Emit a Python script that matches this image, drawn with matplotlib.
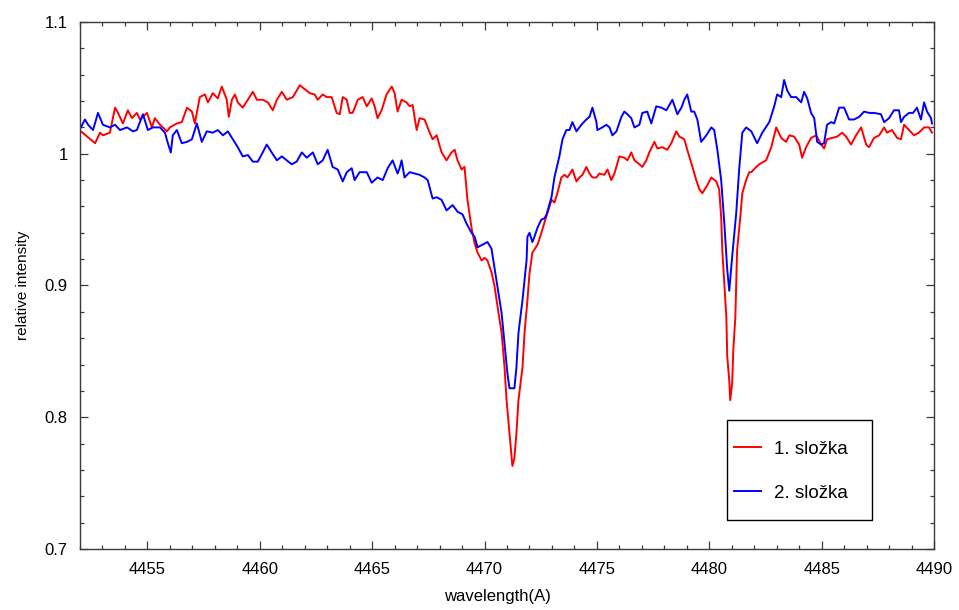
import matplotlib
matplotlib.use("Agg")
import matplotlib.pyplot as plt
from matplotlib.ticker import MultipleLocator, FuncFormatter
from matplotlib.patches import Rectangle

plt.rcParams['font.family'] = ['Liberation Sans', 'DejaVu Sans']

# ---- data ----
wl_red = [4452.04, 4452.67, 4452.89, 4453.02, 4453.33, 4453.56, 4453.69, 4453.91, 4454.13, 4454.31,
          4454.53, 4454.67, 4454.98, 4455.20, 4455.33, 4455.56, 4455.69, 4455.87, 4456.00, 4456.31,
          4456.53, 4456.76, 4456.98, 4457.11, 4457.20, 4457.33, 4457.56, 4457.69, 4457.91, 4458.13,
          4458.31, 4458.53, 4458.62, 4458.76, 4458.89, 4459.02, 4459.24, 4459.47, 4459.69, 4459.87,
          4460.13, 4460.36, 4460.58, 4460.76, 4460.98, 4461.20, 4461.47, 4461.78, 4462.00, 4462.22,
          4462.44, 4462.58, 4462.80, 4462.98, 4463.20, 4463.42, 4463.56, 4463.69, 4463.87, 4464.00,
          4464.13, 4464.36, 4464.58, 4464.76, 4464.98, 4465.11, 4465.24, 4465.42, 4465.64, 4465.87,
          4466.00, 4466.13, 4466.31, 4466.53, 4466.67, 4466.80, 4466.98, 4467.11, 4467.33, 4467.56,
          4467.69, 4467.87, 4468.09, 4468.31, 4468.53, 4468.67, 4468.80, 4468.98, 4469.11, 4469.24,
          4469.42, 4469.56, 4469.69, 4469.87, 4470.00, 4470.13, 4470.31, 4470.44, 4470.58, 4470.76,
          4470.89, 4470.98, 4471.11, 4471.24, 4471.33, 4471.42, 4471.51, 4471.69, 4471.78, 4471.91,
          4472.00, 4472.13, 4472.36, 4472.53, 4472.67, 4472.80, 4472.98, 4473.11, 4473.24, 4473.42,
          4473.56, 4473.69, 4473.91, 4474.09, 4474.22, 4474.36, 4474.53, 4474.67, 4474.80, 4474.98,
          4475.11, 4475.33, 4475.47, 4475.64, 4475.78, 4476.00, 4476.22, 4476.36, 4476.53, 4476.67,
          4476.89, 4477.02, 4477.20, 4477.33, 4477.56, 4477.69, 4477.91, 4478.13, 4478.31, 4478.53,
          4478.67, 4478.89, 4479.02, 4479.20, 4479.42, 4479.56, 4479.69, 4479.91, 4480.09, 4480.31,
          4480.44, 4480.53, 4480.58, 4480.67, 4480.76, 4480.80, 4480.89, 4480.93, 4481.02, 4481.07,
          4481.16, 4481.20, 4481.24, 4481.38, 4481.47, 4481.64, 4481.78, 4481.87, 4482.09, 4482.22,
          4482.53, 4482.76, 4482.98, 4483.20, 4483.42, 4483.56, 4483.78, 4484.00, 4484.13, 4484.31,
          4484.53, 4484.76, 4484.98, 4485.11, 4485.24, 4485.47, 4485.69, 4485.91, 4486.09, 4486.31,
          4486.53, 4486.76, 4486.98, 4487.11, 4487.33, 4487.56, 4487.78, 4487.91, 4488.13, 4488.36,
          4488.53, 4488.67, 4488.89, 4489.11, 4489.33, 4489.56, 4489.78, 4489.91]
int_red = [1.017, 1.008, 1.016, 1.014, 1.016, 1.035, 1.031, 1.023, 1.033, 1.027,
           1.031, 1.026, 1.031, 1.020, 1.027, 1.022, 1.020, 1.017, 1.020, 1.023,
           1.024, 1.035, 1.032, 1.023, 1.031, 1.043, 1.045, 1.039, 1.046, 1.042,
           1.051, 1.041, 1.028, 1.041, 1.045, 1.039, 1.035, 1.041, 1.047, 1.041,
           1.041, 1.039, 1.033, 1.041, 1.047, 1.041, 1.043, 1.052, 1.049, 1.046,
           1.045, 1.041, 1.045, 1.043, 1.043, 1.031, 1.030, 1.043, 1.041, 1.031,
           1.031, 1.041, 1.043, 1.036, 1.042, 1.036, 1.027, 1.033, 1.045, 1.051,
           1.046, 1.032, 1.041, 1.039, 1.036, 1.037, 1.018, 1.027, 1.026, 1.016,
           1.011, 1.014, 1.001, 0.995, 1.001, 1.003, 0.995, 0.988, 0.990, 0.965,
           0.944, 0.932, 0.925, 0.919, 0.921, 0.919, 0.910, 0.900, 0.884, 0.864,
           0.838, 0.813, 0.788, 0.763, 0.769, 0.788, 0.813, 0.838, 0.864, 0.889,
           0.909, 0.925, 0.931, 0.940, 0.948, 0.955, 0.965, 0.963, 0.970, 0.982,
           0.984, 0.982, 0.988, 0.979, 0.982, 0.984, 0.990, 0.985, 0.982, 0.982,
           0.985, 0.984, 0.988, 0.980, 0.985, 0.998, 0.997, 0.995, 1.001, 0.995,
           0.992, 0.990, 0.995, 1.001, 1.009, 1.004, 1.005, 1.003, 1.008, 1.017,
           1.013, 1.011, 1.003, 0.993, 0.980, 0.973, 0.970, 0.976, 0.982, 0.979,
           0.973, 0.952, 0.927, 0.902, 0.876, 0.846, 0.828, 0.813, 0.826, 0.851,
           0.876, 0.902, 0.927, 0.952, 0.970, 0.980, 0.986, 0.986, 0.990, 0.992,
           0.995, 1.005, 1.020, 1.012, 1.009, 1.014, 1.013, 1.007, 0.997, 1.005,
           1.012, 1.014, 1.007, 1.004, 1.011, 1.012, 1.013, 1.016, 1.013, 1.007,
           1.014, 1.020, 1.007, 1.005, 1.012, 1.014, 1.020, 1.016, 1.018, 1.012,
           1.011, 1.022, 1.018, 1.014, 1.016, 1.020, 1.020, 1.016]

wl_blue = [4452.04, 4452.22, 4452.36, 4452.58, 4452.80, 4453.02, 4453.33, 4453.56, 4453.78, 4454.09,
           4454.36, 4454.53, 4454.80, 4455.02, 4455.24, 4455.56, 4455.78, 4455.91, 4456.04, 4456.13,
           4456.31, 4456.53, 4456.76, 4456.98, 4457.20, 4457.42, 4457.64, 4457.91, 4458.13, 4458.36,
           4458.58, 4458.80, 4459.02, 4459.24, 4459.47, 4459.69, 4459.91, 4460.13, 4460.31, 4460.53,
           4460.76, 4460.98, 4461.20, 4461.42, 4461.64, 4461.87, 4462.09, 4462.36, 4462.58, 4462.80,
           4463.02, 4463.24, 4463.47, 4463.69, 4463.87, 4464.09, 4464.22, 4464.44, 4464.76, 4464.98,
           4465.24, 4465.47, 4465.69, 4465.91, 4466.13, 4466.22, 4466.31, 4466.44, 4466.67, 4466.89,
           4467.11, 4467.33, 4467.47, 4467.69, 4467.87, 4468.09, 4468.31, 4468.58, 4468.80, 4469.02,
           4469.20, 4469.42, 4469.56, 4469.69, 4469.91, 4470.13, 4470.31, 4470.44, 4470.58, 4470.76,
           4470.89, 4471.02, 4471.11, 4471.33, 4471.42, 4471.51, 4471.69, 4471.87, 4471.91, 4472.00,
           4472.13, 4472.22, 4472.36, 4472.44, 4472.53, 4472.67, 4472.76, 4472.98, 4473.11, 4473.33,
           4473.47, 4473.64, 4473.78, 4473.91, 4474.09, 4474.22, 4474.36, 4474.53, 4474.67, 4474.80,
           4474.98, 4475.02, 4475.24, 4475.42, 4475.56, 4475.69, 4475.87, 4476.09, 4476.22, 4476.36,
           4476.53, 4476.67, 4476.89, 4477.02, 4477.24, 4477.42, 4477.64, 4477.87, 4478.09, 4478.36,
           4478.58, 4478.76, 4478.89, 4479.02, 4479.20, 4479.33, 4479.47, 4479.64, 4479.87, 4480.09,
           4480.22, 4480.36, 4480.53, 4480.67, 4480.80, 4480.89, 4481.02, 4481.20, 4481.33, 4481.47,
           4481.64, 4481.87, 4482.13, 4482.36, 4482.67, 4482.89, 4483.02, 4483.20, 4483.33, 4483.47,
           4483.64, 4483.87, 4484.09, 4484.22, 4484.36, 4484.53, 4484.67, 4484.80, 4484.98, 4485.11,
           4485.24, 4485.42, 4485.56, 4485.78, 4486.00, 4486.22, 4486.44, 4486.67, 4486.89, 4487.11,
           4487.33, 4487.64, 4487.78, 4488.00, 4488.22, 4488.44, 4488.53, 4488.67, 4488.89, 4489.07,
           4489.24, 4489.42, 4489.56, 4489.69, 4489.87, 4489.91]
int_blue = [1.020, 1.026, 1.022, 1.018, 1.031, 1.022, 1.020, 1.022, 1.018, 1.020,
            1.017, 1.018, 1.030, 1.018, 1.020, 1.020, 1.016, 1.008, 1.001, 1.014,
            1.018, 1.008, 1.009, 1.011, 1.023, 1.009, 1.017, 1.016, 1.018, 1.014,
            1.017, 1.011, 1.005, 0.998, 0.999, 0.994, 0.994, 1.001, 1.007, 1.001,
            0.995, 0.998, 0.995, 0.992, 0.994, 1.001, 0.997, 1.001, 0.992, 0.995,
            1.003, 0.990, 0.988, 0.979, 0.986, 0.989, 0.980, 0.986, 0.986, 0.978,
            0.982, 0.980, 0.989, 0.995, 0.985, 0.989, 0.995, 0.982, 0.986, 0.985,
            0.984, 0.982, 0.980, 0.966, 0.967, 0.965, 0.957, 0.961, 0.956, 0.954,
            0.947, 0.940, 0.937, 0.929, 0.931, 0.933, 0.928, 0.914, 0.899, 0.879,
            0.856, 0.833, 0.822, 0.822, 0.838, 0.864, 0.889, 0.919, 0.937, 0.940,
            0.933, 0.937, 0.944, 0.947, 0.950, 0.951, 0.954, 0.967, 0.982, 0.998,
            1.011, 1.018, 1.018, 1.024, 1.017, 1.020, 1.023, 1.026, 1.028, 1.035,
            1.024, 1.018, 1.020, 1.022, 1.020, 1.014, 1.017, 1.028, 1.032, 1.030,
            1.027, 1.020, 1.022, 1.031, 1.032, 1.023, 1.036, 1.035, 1.033, 1.041,
            1.030, 1.035, 1.041, 1.045, 1.032, 1.032, 1.026, 1.009, 1.014, 1.020,
            1.018, 1.003, 0.980, 0.947, 0.912, 0.896, 0.922, 0.955, 0.988, 1.016,
            1.020, 1.017, 1.008, 1.016, 1.024, 1.036, 1.045, 1.043, 1.056, 1.048,
            1.043, 1.043, 1.039, 1.047, 1.042, 1.031, 1.027, 1.009, 1.007, 1.008,
            1.022, 1.024, 1.023, 1.035, 1.035, 1.026, 1.026, 1.028, 1.032, 1.031,
            1.031, 1.030, 1.024, 1.027, 1.033, 1.033, 1.024, 1.028, 1.031, 1.031,
            1.035, 1.026, 1.039, 1.032, 1.027, 1.023]

series_labels = ["1. složka", "2. složka"]
x_label = "wavelength(A)"
y_label = "relative intensity"

# ---- figure ----
fig = plt.figure(figsize=(9.59, 6.10), dpi=100)
ax = fig.add_axes([80/959, 61/610, 854/959, 527/610])

l1, = ax.plot(wl_red, int_red, color='#ff0000', lw=1.4, label=series_labels[0])
l2, = ax.plot(wl_blue, int_blue, color='#0000ff', lw=1.4, label=series_labels[1])

ax.set_xlim(4452, 4490)
ax.set_ylim(0.7, 1.1)
ax.xaxis.set_major_locator(MultipleLocator(5))
ax.xaxis.set_minor_locator(MultipleLocator(1))
ax.yaxis.set_major_locator(MultipleLocator(0.1))
ax.yaxis.set_minor_locator(MultipleLocator(0.02))
ax.yaxis.set_major_formatter(FuncFormatter(lambda v, p: f"{v:g}"))
ax.xaxis.set_major_formatter(FuncFormatter(lambda v, p: f"{v:.0f}"))

spine_c = '#3a3a3a'
for s in ax.spines.values():
    s.set_color(spine_c)
    s.set_linewidth(1.0)
ax.tick_params(which='both', direction='in', top=True, right=True, color=spine_c, width=0.9)
ax.tick_params(which='major', length=6, labelsize=12, pad=9)
ax.tick_params(which='minor', length=3)

ax.set_xlabel(x_label, fontsize=12, labelpad=6)
ax.xaxis.set_label_coords((497 - 80) / 854, -0.075)
ax.set_ylabel(y_label, fontsize=11, labelpad=10)

# legend with a separate frame to match the wide box
lx0, ly0, lx1, ly1 = (727-80)/854, (549-520)/527, (872-80)/854, (549-420)/527
ax.add_patch(Rectangle((lx0, ly0), lx1-lx0, ly1-ly0, transform=ax.transAxes,
                       facecolor='white', edgecolor='black', lw=1.0, zorder=5))
leg = ax.legend(handles=[l1, l2], loc='upper left', bbox_to_anchor=(lx0, ly1 - 0.027),
                frameon=False, fontsize=13.5, handlelength=1.45, handletextpad=0.7,
                labelspacing=1.43, borderaxespad=0.0, borderpad=0.35)
leg.set_zorder(6)

fig.savefig("out.png", dpi=100)
